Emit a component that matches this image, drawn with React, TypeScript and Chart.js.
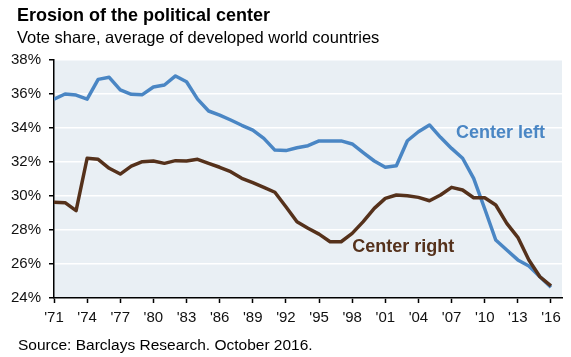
import React, { useEffect, useRef } from "react";
import { Chart, registerables } from "chart.js";

Chart.register(...registerables);

const years = [
  1971, 1972, 1973, 1974, 1975, 1976, 1977, 1978, 1979, 1980,
  1981, 1982, 1983, 1984, 1985, 1986, 1987, 1988, 1989, 1990,
  1991, 1992, 1993, 1994, 1995, 1996, 1997, 1998, 1999, 2000,
  2001, 2002, 2003, 2004, 2005, 2006, 2007, 2008, 2009, 2010,
  2011, 2012, 2013, 2014, 2015, 2016,
];

const centerLeft = [
  35.69, 36.0, 35.94, 35.7, 36.86, 36.98, 36.24, 35.98, 35.96, 36.41,
  36.53, 37.06, 36.72, 35.7, 35.0, 34.76, 34.47, 34.16, 33.88, 33.39,
  32.7, 32.67, 32.84, 32.96, 33.24, 33.24, 33.24, 33.06, 32.55, 32.06,
  31.69, 31.78, 33.25, 33.78, 34.18, 33.45, 32.8, 32.22, 31.04, 29.25,
  27.41, 26.82, 26.24, 25.88, 25.25, 24.63,
];

const centerRight = [
  29.63, 29.61, 29.14, 32.22, 32.16, 31.63, 31.29, 31.76, 32.02, 32.06,
  31.92, 32.08, 32.06, 32.16, 31.92, 31.69, 31.43, 31.04, 30.78, 30.51,
  30.22, 29.37, 28.49, 28.1, 27.76, 27.31, 27.31, 27.8, 28.49, 29.27,
  29.86, 30.06, 30.02, 29.92, 29.72, 30.06, 30.51, 30.35, 29.9, 29.9,
  29.47, 28.39, 27.57, 26.24, 25.25, 24.71,
];

const xTickYears = [1971, 1974, 1977, 1980, 1983, 1986, 1989, 1992, 1995, 1998, 2001, 2004, 2007, 2010, 2013, 2016];
const yTicks = [24, 26, 28, 30, 32, 34, 36, 38];

const seriesLabels = [
  { text: "Center left", color: "#4a86c4", x: 2007.4, y: 33.7 },
  { text: "Center right", color: "#55311b", x: 1998.0, y: 27.0 },
];

const BLUE = "#4a86c4";
const BROWN = "#55311b";
const FONT = "Arial, 'Liberation Sans', Helvetica, sans-serif";

export default function App() {
  const ref = useRef<HTMLCanvasElement | null>(null);

  useEffect(() => {
    if (!ref.current) return;
    const bgPlugin = {
      id: "bg",
      beforeDraw(chart: any) {
        const { ctx, chartArea } = chart;
        ctx.save();
        ctx.fillStyle = "#e9eff4";
        ctx.fillRect(chartArea.left, chartArea.top, chartArea.right - chartArea.left, chartArea.bottom - chartArea.top);
        ctx.restore();
      },
      afterDatasetsDraw(chart: any) {
        const { ctx } = chart;
        const xs = chart.scales.x;
        const ys = chart.scales.y;
        ctx.save();
        ctx.font = `bold 18px ${FONT}`;
        ctx.textBaseline = "middle";
        ctx.textAlign = "left";
        for (const l of seriesLabels) {
          ctx.fillStyle = l.color;
          ctx.fillText(l.text, xs.getPixelForValue(l.x), ys.getPixelForValue(l.y));
        }
        ctx.restore();
      },
    };

    const chart = new Chart(ref.current, {
      type: "line",
      data: {
        datasets: [
          {
            label: "Center right",
            data: years.map((yr, i) => ({ x: yr, y: centerRight[i] })),
            borderColor: BROWN,
            borderWidth: 3.5,
            pointRadius: 0,
            tension: 0,
            borderJoinStyle: "round",
            fill: false,
          },
          {
            label: "Center left",
            data: years.map((yr, i) => ({ x: yr, y: centerLeft[i] })),
            borderColor: BLUE,
            borderWidth: 3.5,
            pointRadius: 0,
            tension: 0,
            borderJoinStyle: "round",
            fill: false,
          },
        ],
      },
      options: {
        animation: false,
        responsive: false,
        maintainAspectRatio: false,
        layout: { padding: { top: 60, right: 9, left: 0, bottom: 0 } },
        plugins: { legend: { display: false }, tooltip: { enabled: false }, title: { display: false } },
        scales: {
          x: {
            type: "linear",
            min: 1971,
            max: 2017,
            afterBuildTicks(scale: any) {
              scale.ticks = xTickYears.map((v) => ({ value: v }));
            },
            afterFit(scale: any) {
              scale.height = 59;
            },
            ticks: {
              autoSkip: false,
              maxRotation: 0,
              color: "#111",
              font: { family: FONT, size: 15 },
              padding: 6,
              callback: (v: any) => "'" + String(Number(v) % 100).padStart(2, "0"),
            },
            grid: {
              drawOnChartArea: false,
              drawTicks: true,
              tickLength: 5,
              tickColor: "#000",
              tickWidth: 1.5,
            },
            border: { display: true, color: "#000", width: 1.5 },
          },
          y: {
            min: 24,
            max: 38,
            afterBuildTicks(scale: any) {
              scale.ticks = yTicks.map((v) => ({ value: v }));
            },
            afterFit(scale: any) {
              scale.width = 54;
            },
            ticks: {
              color: "#111",
              font: { family: FONT, size: 15 },
              padding: 8,
              callback: (v: any) => v + "%",
            },
            grid: {
              color: "#ffffff",
              lineWidth: 1.5,
              drawTicks: true,
              tickLength: 5,
              tickColor: "#000",
              tickWidth: 1.5,
            },
            border: { display: true, color: "#000", width: 1.5 },
          },
        },
      },
      plugins: [bgPlugin],
    } as any);
    return () => chart.destroy();
  }, []);

  return (
    <div style={{ position: "fixed", left: 0, top: 0, width: 571, height: 357, background: "#fff", fontFamily: FONT }}>
      <canvas ref={ref} width={571} height={357} style={{ position: "absolute", left: 0, top: 0, width: 571, height: 357 }} />
      <div style={{ position: "absolute", left: 17, top: 5.5, fontSize: 18, lineHeight: "18px", fontWeight: "bold", color: "#000", whiteSpace: "nowrap" }}>
        Erosion of the political center
      </div>
      <div style={{ position: "absolute", left: 17, top: 29.3, fontSize: 16.5, lineHeight: "16.5px", color: "#000", whiteSpace: "nowrap" }}>
        Vote share, average of developed world countries
      </div>
      <div style={{ position: "absolute", left: 18, top: 336.6, fontSize: 15.5, lineHeight: "15.5px", color: "#000", whiteSpace: "nowrap" }}>
        Source: Barclays Research. October 2016.
      </div>
    </div>
  );
}
